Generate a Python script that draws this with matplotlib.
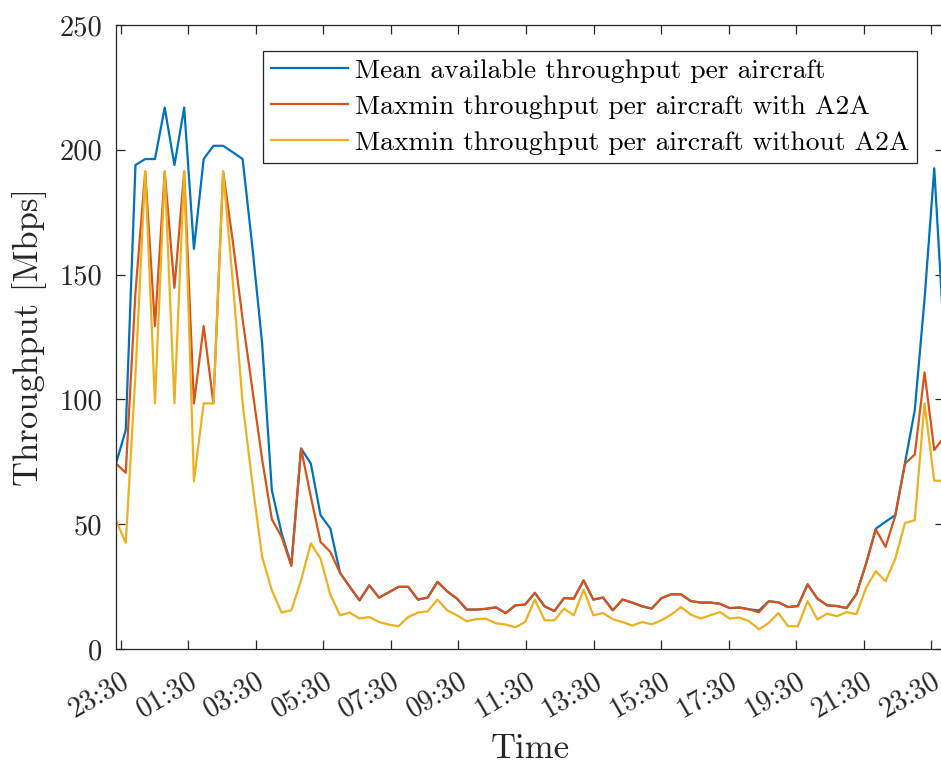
"""Throughput per aircraft over one day: mean available vs. maxmin with / without A2A."""
import matplotlib
matplotlib.use("Agg")
import matplotlib.pyplot as plt
import numpy as np

plt.rcParams["font.family"] = ["cmr10", "DejaVu Serif"]
plt.rcParams["mathtext.fontset"] = "cm"

# ----------------------------- data (Mbps) -----------------------------------
mean_tp = [
    74.3, 87.7, 193.9, 196.3, 196.3, 216.9, 193.9, 216.9, 160.3, 196.3,
    201.6, 201.6, 199.0, 196.3, 161.0, 122.5, 63.6, 46.4, 33.6, 80.3,
    74.3, 53.6, 48.3, 30.5, 24.9, 19.5, 25.5, 20.6, 22.7, 24.9,
    24.9, 19.8, 20.6, 26.9, 23.1, 20.2, 15.8, 15.8, 16.1, 16.7,
    14.4, 17.5, 17.8, 22.5, 17.1, 15.2, 20.4, 20.2, 27.5, 19.8,
    20.6, 15.5, 19.8, 18.6, 17.1, 16.2, 20.4, 21.9, 21.9, 19.2,
    18.6, 18.6, 18.1, 16.4, 16.6, 15.9, 15.4, 19.1, 18.7, 16.8,
    17.2, 25.9, 20.2, 17.5, 17.2, 16.4, 21.9, 34.2, 48.2, 51.0,
    53.6, 74.6, 95.7, 140.0, 192.6, 125.0,
]
maxmin_a2a = [
    74.3, 70.6, 143.0, 191.3, 129.4, 191.3, 144.7, 191.3, 98.4, 129.4,
    98.4, 191.3, 163.0, 132.0, 104.0, 76.0, 52.0, 44.9, 33.3, 80.3,
    61.0, 42.9, 38.9, 30.5, 24.9, 19.5, 25.5, 20.6, 22.7, 24.9,
    24.9, 19.8, 20.6, 26.9, 23.1, 20.2, 15.8, 15.8, 16.1, 16.7,
    14.4, 17.5, 17.8, 22.5, 17.1, 15.2, 20.4, 20.2, 27.5, 19.8,
    20.6, 15.5, 19.8, 18.6, 17.1, 16.2, 20.4, 21.9, 21.9, 19.2,
    18.6, 18.6, 18.1, 16.4, 16.6, 15.9, 14.7, 19.1, 18.7, 16.8,
    17.2, 25.9, 20.2, 17.5, 17.2, 16.4, 21.9, 34.2, 47.9, 40.9,
    53.4, 74.3, 77.9, 110.8, 79.7, 85.0,
]
maxmin_no_a2a = [
    51.6, 42.5, 110.0, 191.3, 98.4, 191.3, 98.4, 191.3, 67.2, 98.4,
    98.4, 191.3, 146.6, 98.5, 66.4, 36.9, 23.5, 14.6, 15.5, 27.5,
    42.3, 36.2, 21.8, 13.5, 14.6, 12.2, 12.8, 10.8, 9.8, 9.1,
    12.8, 14.6, 15.1, 19.8, 15.5, 13.5, 11.1, 12.0, 12.1, 10.3,
    9.8, 8.7, 10.8, 19.8, 11.5, 11.5, 16.2, 13.5, 23.8, 13.5,
    14.4, 11.9, 10.8, 9.4, 10.8, 9.9, 11.5, 13.8, 16.8, 13.8,
    12.2, 13.5, 14.8, 12.2, 12.6, 11.1, 7.9, 10.4, 14.4, 9.1,
    9.1, 19.2, 11.8, 14.2, 13.1, 14.8, 13.9, 24.5, 31.2, 27.1,
    36.2, 50.5, 51.6, 98.4, 67.4, 67.4,
]

# sample times in minutes relative to 23:30 (one sample every ~17.3 min)
START_MIN = -8.2
STEP_MIN = 17.3
minutes = START_MIN + STEP_MIN * np.arange(len(mean_tp))

tick_minutes = list(range(0, 1441, 120))
tick_labels = ["23:30", "01:30", "03:30", "05:30", "07:30", "09:30", "11:30",
               "13:30", "15:30", "17:30", "19:30", "21:30", "23:30"]

labels = ["Mean available throughput per aircraft",
          "Maxmin throughput per aircraft with A2A",
          "Maxmin throughput per aircraft without A2A"]
colors = ["#0072BD", "#D95319", "#EDB120"]

# ----------------------------- figure -----------------------------------------
W, H = 941, 764
fig = plt.figure(figsize=(W / 100, H / 100), dpi=100)
# right spine sits just outside the canvas, as in the reference export
ax = fig.add_axes([116 / W, 115 / H, 828 / W, 624 / H])

for series, lab, col in zip([mean_tp, maxmin_a2a, maxmin_no_a2a], labels, colors):
    ax.plot(minutes, series, color=col, lw=1.6, label=lab)

ax.set_xlim(minutes[0], minutes[-1])
ax.set_ylim(0, 250)
ax.set_yticks([0, 50, 100, 150, 200, 250])
ax.set_xticks(tick_minutes)
ax.set_xticklabels(tick_labels, rotation=30, ha="right", rotation_mode="anchor")

axis_col = "#262626"
for sp in ax.spines.values():
    sp.set_color(axis_col)
    sp.set_linewidth(0.9)
ax.tick_params(direction="in", length=6.5, width=0.9, colors=axis_col,
               labelsize=20.5, top=True, right=True)
ax.tick_params(axis="y", pad=10)
ax.tick_params(axis="x", pad=13)

ax.set_ylabel("Throughput [Mbps]", fontsize=25, color=axis_col)
ax.set_xlabel("Time", fontsize=25, color=axis_col)
ax.yaxis.set_label_coords(-0.083, 0.5)
ax.xaxis.set_label_coords(0.5, -0.135)

leg = ax.legend(loc="upper right", bbox_to_anchor=(917 / W, 1 - 51 / H),
                bbox_transform=fig.transFigure, fontsize=19.8, frameon=True,
                fancybox=False, framealpha=1, borderaxespad=0, borderpad=0.28,
                handlelength=2.8, handletextpad=0.26, labelspacing=0.43)
leg.get_frame().set_edgecolor(axis_col)
leg.get_frame().set_linewidth(0.9)

fig.savefig("out.png", dpi=100)
